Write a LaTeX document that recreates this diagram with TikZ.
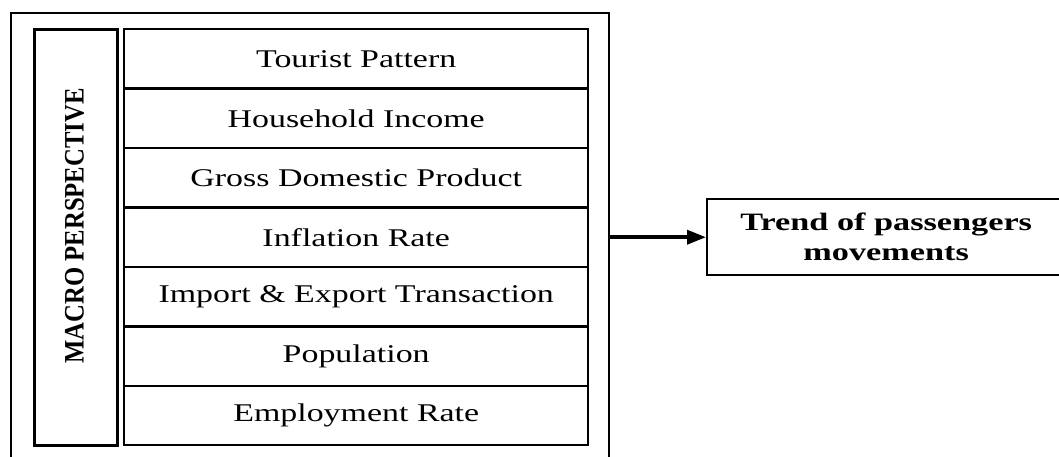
\documentclass[tikz,border=0pt]{standalone}
\usepackage{fontspec}
\setmainfont{Liberation Serif}
\usetikzlibrary{arrows.meta,positioning,calc}

% row labels are set wide, as in the original layout
\newcommand{\rowtxt}[1]{\scalebox{1.33}[1]{#1}}
\newcommand{\widebold}[1]{\scalebox{1.37}[1]{#1}}

\begin{document}
\begin{tikzpicture}[x=1pt,y=-1pt,
  outerbox/.style={draw=black,line width=2pt,minimum width=598pt,minimum height=450pt,anchor=north west,inner sep=0pt},
  sidebox/.style={draw=black,line width=2.8pt,minimum width=83pt,minimum height=416pt,anchor=north west,inner sep=0pt},
  rowbox/.style={draw=black,line width=2.4pt,minimum width=464pt,minimum height=59.43pt,anchor=north west,inner sep=0pt},
  rowtext/.style={font=\fontsize{25.5}{30}\selectfont},
  resultbox/.style={draw=black,line width=2.4pt,minimum width=360pt,minimum height=76pt,anchor=north west,inner sep=0pt},
  flow/.style={line width=3.6pt,-{Triangle[length=19pt,width=14pt]}}]
  \useasboundingbox (0,0) rectangle (1059,456);

  % frame around the factor group
  \node[outerbox] (frame) at (10,12) {};

  % vertical heading
  \node[sidebox] (macro) at (33,28) {};
  \node[rotate=90,inner sep=0pt] (macrotxt) at ([yshift=11.5pt,xshift=-1.5pt]macro.center)
    {\fontsize{24.7}{28}\selectfont\bfseries\scalebox{1}[1.14]{MACRO PERSPECTIVE}};

  % stack of factors
  \node[rowbox] (r1) at (123,28) {};
  \node[rowbox] (r2) at (123,87.43) {};
  \node[rowbox] (r3) at (123,146.86) {};
  \node[rowbox] (r4) at (123,206.29) {};
  \node[rowbox] (r5) at (123,265.71) {};
  \node[rowbox] (r6) at (123,325.14) {};
  \node[rowbox] (r7) at (123,384.57) {};
  \node[rowtext] (t1) at (r1.center) {\rowtxt{Tourist Pattern}};
  \node[rowtext] (t2) at (r2.center) {\rowtxt{Household Income}};
  \node[rowtext] (t3) at (r3.center) {\rowtxt{Gross Domestic Product}};
  \node[rowtext] (t4) at (r4.center) {\rowtxt{Inflation Rate}};
  \node[rowtext] (t5) at (r5.center) {\rowtxt{Import \& Export Transaction}};
  \node[rowtext] (t6) at (r6.center) {\rowtxt{Population}};
  \node[rowtext] (t7) at (r7.center) {\rowtxt{Employment Rate}};

  % outcome
  \node[resultbox] (trend) at (706,198) {};
  \node[align=center,inner sep=0pt,font=\fontsize{25}{30}\selectfont\bfseries]
    (trendtxt) at ([xshift=-1pt]trend.center)
    {\widebold{Trend of passengers}\\\widebold{movements}};

  \draw[flow] (frame.east |- trend.west) -- (trend.west);
\end{tikzpicture}
\end{document}
